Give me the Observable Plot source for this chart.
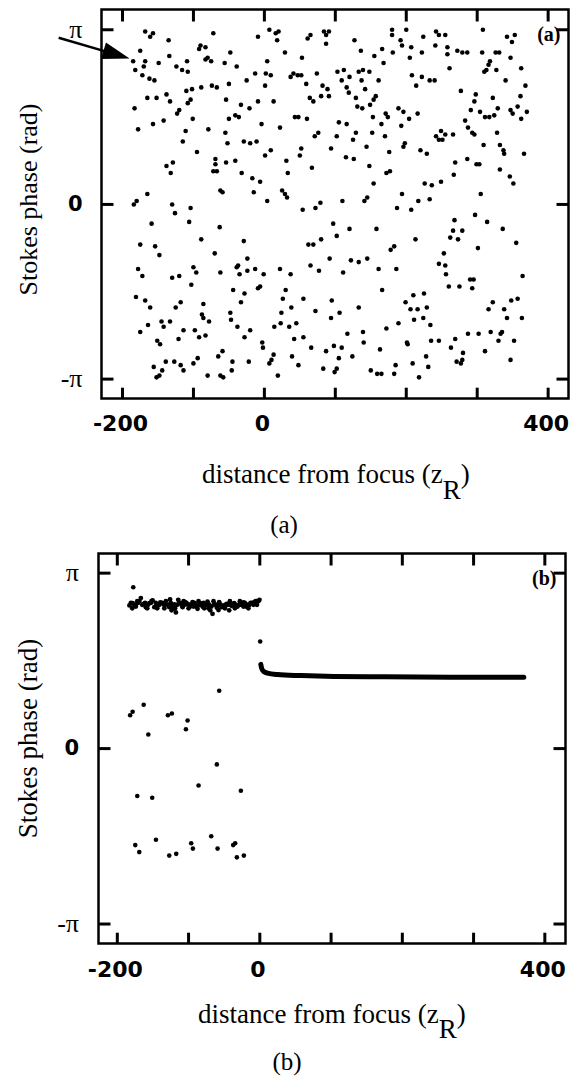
<!DOCTYPE html>
<html><head><meta charset="utf-8">
<script src="https://cdn.jsdelivr.net/npm/d3@7"></script>
<script src="https://cdn.jsdelivr.net/npm/@observablehq/plot@0.6"></script>
<style>
body{margin:0;background:#fff;}
#root{position:relative;width:570px;height:1085px;overflow:hidden;background:#fff;}
.panel{position:absolute;left:0;}
.xl{position:absolute;font-family:"Liberation Serif",serif;font-size:27px;line-height:1;white-space:nowrap;color:#000;}
.xl .sub{position:relative;}
.cap{position:absolute;font-family:"Liberation Serif",serif;font-size:25px;line-height:1;transform:translateX(-50%);white-space:nowrap;color:#000;}
</style></head>
<body><div id="root">
<div id="pa" class="panel" style="top:0"></div>
<div class="xl" style="left:202px;top:461px">distance from focus (z<span class="sub" style="top:16px">R</span>)</div>
<div class="cap" style="left:284px;top:512px">(a)</div>
<div id="pb" class="panel" style="top:540px"></div>
<div class="xl" style="left:198px;top:1001px">distance from focus (z<span class="sub" style="top:15px">R</span>)</div>
<div class="cap" style="left:287px;top:1049px">(b)</div>
</div>
<script>
// ---- axis ticks ----
const xTickValues = [-200, -100, 0, 100, 200, 300, 400];
const xLabelValues = [-200, 0, 400];
const xLabelText = ["-200", "0", "400"];
const yTickValues = [-1, 0, 1];          // Stokes phase in units of π
const piTickValues = [-1, 1];
const piTickText = ["-π", "π"];
const zeroTick = [0];
const yLabel = "Stokes phase (rad)";

// ---- panel (a): [distance (zR), phase (π rad)] ----
const pointsA = [
[-185,0.82],[-168,0.99],[-161,0.96],[-157,0.98],[-135,0.94],[-72,0.98],[-9,0.96],[7,1.00],[16,0.98],[20,0.99],
[18,0.94],[61,0.95],[65,0.97],[84,0.99],[91,0.99],[87,0.97],[87,0.92],[-175,0.88],[-134,0.85],[-92,0.89],
[-90,0.91],[-83,0.90],[-80,0.84],[-83,0.83],[-75,0.82],[-48,0.87],[-56,0.81],[-39,0.79],[29,0.87],[53,0.84],
[4,0.82],[-168,0.82],[-170,0.79],[-149,0.81],[-182,0.77],[-172,0.74],[-162,0.72],[-155,0.71],[-124,0.79],[-116,0.77],
[-108,0.76],[-109,0.82],[-25,0.71],[-13,0.75],[2,0.75],[9,0.74],[37,0.73],[41,0.75],[47,0.74],[52,0.74],
[74,0.75],[59,0.69],[82,0.68],[89,0.66],[1,0.68],[-50,0.69],[-74,0.68],[-67,0.67],[-89,0.67],[-110,0.65],
[-102,0.66],[-138,0.63],[-165,0.61],[-152,0.61],[-133,0.59],[-108,0.58],[-104,0.60],[-54,0.60],[-9,0.59],[13,0.59],
[64,0.61],[69,0.59],[80,0.62],[91,0.62],[-183,0.55],[-123,0.52],[-120,0.54],[-33,0.57],[-21,0.55],[-41,0.51],
[-36,0.50],[-50,0.49],[-101,0.49],[-142,0.48],[-157,0.46],[-178,0.43],[-79,0.43],[-55,0.41],[-4,0.46],[22,0.44],
[43,0.50],[48,0.50],[60,0.49],[-111,0.42],[-115,0.36],[-52,0.35],[-29,0.36],[-20,0.35],[-11,0.36],[9,0.31],
[1,0.28],[52,0.32],[50,0.28],[71,0.39],[76,0.41],[94,0.32],[-95,0.30],[-138,0.22],[-129,0.24],[-132,0.18],
[-69,0.26],[-69,0.23],[-72,0.19],[-67,0.19],[-54,0.24],[-41,0.25],[-32,0.18],[-17,0.15],[-6,0.13],[31,0.25],
[33,0.18],[67,0.21],[-165,0.06],[-62,0.08],[-59,0.07],[-15,0.07],[25,0.08],[29,0.06],
[103,0.76],[112,0.77],[109,0.71],[120,0.73],[116,0.67],[119,0.64],[129,0.61],[142,0.66],[133,0.76],[139,0.77],
[148,0.76],[137,0.71],[161,0.71],[154,0.60],[157,0.62],[149,0.57],[131,0.56],[138,0.55],[153,0.50],[171,0.52],
[174,0.50],[165,0.46],[152,0.41],[170,0.39],[189,0.55],[196,0.53],[204,0.49],[216,0.52],[193,0.45],[220,0.31],
[229,0.29],[196,0.33],[198,0.35],[176,0.30],[144,0.33],[129,0.41],[125,0.37],[105,0.47],[116,0.46],[102,0.39],
[115,0.27],[126,0.26],[148,0.22],[172,0.18],[177,0.19],[154,0.12],[194,0.06],[226,0.12],[236,0.11],[249,0.13],
[267,0.17],[269,0.24],[286,0.26],[299,0.23],[303,0.23],[332,0.20],[346,0.16],[351,0.12],[305,0.06],[366,0.29],
[337,0.31],[338,0.29],[332,0.34],[309,0.34],[328,0.41],[283,0.48],[287,0.44],[293,0.41],[296,0.40],[255,0.40],
[249,0.42],[242,0.39],[246,0.37],[251,0.37],[266,0.40],[277,0.65],[298,0.63],[296,0.59],[291,0.54],[304,0.53],
[311,0.50],[317,0.50],[324,0.51],[329,0.55],[322,0.61],[340,0.71],[347,0.84],[362,0.78],[368,0.68],[361,0.62],
[357,0.56],[347,0.54],[350,0.52],[370,0.53],[362,0.49],[318,0.82],[316,0.80],[313,0.77],[310,0.76],[326,0.87],
[331,0.87],[327,0.77],[307,0.87],[342,0.96],[353,0.97],[349,0.93],[308,1.00],[272,0.88],[279,0.87],[286,0.87],
[258,0.90],[258,0.86],[261,0.78],[242,0.99],[246,0.97],[255,0.97],[224,0.96],[241,0.91],[222,0.87],[180,1.00],
[180,0.97],[200,1.00],[192,0.94],[194,0.91],[207,0.90],[205,0.84],[181,0.87],[166,0.89],[155,0.85],[168,0.81],
[136,0.88],[127,0.94],[208,0.74],[222,0.73],[233,0.71],[240,0.71],[214,0.68],
[-184,0.00],[-180,0.02],[-130,0.00],[-126,-0.05],[-104,-0.02],[-106,-0.10],[-159,-0.11],[-63,-0.13],[-89,-0.20],[-29,-0.21],
[4,0.02],[32,0.04],[54,-0.03],[72,-0.02],[79,0.01],[-175,-0.23],[-154,-0.24],[-148,-0.29],[-70,-0.28],[-24,-0.31],
[-39,-0.36],[-37,-0.35],[-35,-0.40],[-24,-0.38],[-13,-0.37],[-1,-0.40],[22,-0.37],[37,-0.40],[62,-0.23],[69,-0.23],
[80,-0.20],[92,-0.31],[65,-0.35],[77,-0.38],[-178,-0.37],[-172,-0.41],[-130,-0.42],[-120,-0.41],[-100,-0.36],[-96,-0.39],
[-103,-0.46],[-62,-0.39],[-44,-0.49],[-28,-0.51],[-33,-0.56],[-9,-0.48],[-6,-0.47],[30,-0.49],[26,-0.54],[24,-0.62],
[38,-0.59],[55,-0.54],[72,-0.61],[94,-0.65],[-181,-0.53],[-168,-0.55],[-161,-0.59],[-125,-0.59],[-118,-0.56],[-86,-0.57],
[-88,-0.63],[-86,-0.65],[-78,-0.67],[-48,-0.62],[-47,-0.66],[-38,-0.70],[-20,-0.72],[-28,-0.76],[-3,-0.79],[-2,-0.82],
[14,-0.70],[23,-0.68],[35,-0.70],[45,-0.68],[42,-0.77],[55,-0.76],[66,-0.82],[87,-0.84],[-175,-0.73],[-164,-0.69],
[-145,-0.67],[-142,-0.70],[-133,-0.67],[-151,-0.78],[-147,-0.80],[-121,-0.77],[-114,-0.72],[-98,-0.72],[-92,-0.76],[-83,-0.75],
[-65,-0.87],[-59,-0.84],[-45,-0.90],[-46,-0.95],[-22,-0.90],[13,-0.86],[10,-0.89],[7,-0.91],[19,-0.98],[39,-0.87],
[48,-0.92],[83,-0.94],[-156,-0.93],[-152,-0.99],[-148,-0.98],[-144,-0.95],[-139,-0.90],[-127,-0.90],[-118,-0.92],[-114,-0.95],
[-100,-0.91],[-94,-0.88],[-80,-0.98],[-62,-0.98],[-58,-0.99],
[110,0.02],[141,0.02],[145,0.04],[217,0.02],[233,0.03],[97,-0.11],[102,-0.18],[120,-0.14],[158,-0.14],[187,-0.02],
[207,-0.03],[213,-0.20],[178,-0.26],[183,-0.24],[268,-0.09],[266,-0.15],[279,-0.15],[262,-0.19],[273,-0.20],[297,-0.06],
[314,-0.10],[336,-0.14],[355,-0.22],[301,-0.25],[122,-0.32],[133,-0.33],[145,-0.31],[111,-0.39],[161,-0.37],[186,-0.37],
[253,-0.28],[246,-0.34],[255,-0.35],[256,-0.40],[260,-0.47],[275,-0.47],[290,-0.43],[295,-0.43],[293,-0.48],[364,-0.41],
[166,-0.49],[95,-0.55],[106,-0.62],[133,-0.59],[199,-0.56],[206,-0.60],[210,-0.52],[225,-0.51],[216,-0.60],[229,-0.59],
[211,-0.66],[224,-0.65],[234,-0.69],[189,-0.68],[172,-0.71],[117,-0.74],[139,-0.73],[140,-0.79],[98,-0.81],[109,-0.82],
[124,-0.87],[105,-0.88],[99,-0.96],[102,-0.94],[163,-0.83],[201,-0.79],[202,-0.80],[235,-0.78],[246,-0.78],[269,-0.77],
[263,-0.82],[287,-0.74],[302,-0.74],[319,-0.73],[311,-0.84],[280,-0.85],[271,-0.90],[279,-0.89],[277,-0.91],[330,-0.78],
[333,-0.74],[335,-0.73],[352,-0.78],[347,-0.89],[316,-0.60],[322,-0.56],[338,-0.60],[342,-0.65],[348,-0.55],[357,-0.54],
[363,-0.65],[228,-0.87],[231,-0.93],[209,-0.91],[218,-0.99],[185,-0.92],[183,-0.97],[150,-0.95],[159,-0.97],[165,-0.97]
];
// arrow annotation of panel (a), data units: tail -> head centre
const arrowA = [{x1: -290, y1: 0.954, x2: -214.5, y2: 0.865}];

// ---- panel (b) ----
const bandB = [
[-183,0.816],[-178.5,0.829],[-174,0.81],[-169,0.841],[-167,0.858],[-163,0.825],[-160,0.806],[-155,0.829],[-150.5,0.845],[-148,0.806],
[-143.5,0.816],[-139.7,0.833],[-135,0.822],[-131.8,0.841],[-127,0.806],[-123.8,0.788],[-120,0.822],[-117.8,0.776],[-114.5,0.848],[-111.7,0.829],
[-108.4,0.806],[-105,0.835],[-101.4,0.822],[-97.7,0.81],[-94.4,0.835],[-90.7,0.822],[-87.4,0.797],[-83.6,0.829],[-80.4,0.81],[-77,0.822],
[-73.4,0.837],[-69.6,0.788],[-66.4,0.768],[-64,0.822],[-60.3,0.803],[-57,0.835],[-53.7,0.806],[-50,0.816],[-46.3,0.825],[-43,0.788],
[-39.7,0.814],[-36,0.829],[-31.3,0.81],[-26.6,0.822],[-22.9,0.833],[-19.2,0.81],[-15,0.818],[-11.7,0.829],[-7.9,0.833],[-4.2,0.841],[-0.5,0.848],
[-181,0.83],[-176,0.82],[-171,0.83],[-165,0.82],[-161,0.83],[-157,0.82],[-153,0.83],[-146,0.83],[-141,0.82],[-137,0.83],
[-133,0.82],[-129,0.82],[-125,0.83],[-122,0.81],[-116,0.82],[-113,0.83],[-110,0.82],[-106,0.82],[-103,0.83],[-99,0.82],
[-96,0.82],[-92,0.83],[-89,0.81],[-85,0.82],[-82,0.82],[-79,0.83],[-75,0.82],[-71,0.82],[-68,0.81],[-62,0.82],
[-59,0.82],[-55,0.82],[-52,0.81],[-48,0.82],[-45,0.82],[-41,0.82],[-38,0.82],[-34,0.82],[-29,0.82],[-25,0.82],
[-21,0.83],[-17,0.82],[-13,0.83],[-10,0.83],[-6,0.84],[-2,0.84],
[-179,0.80],[-172,0.84],[-158,0.80],[-152,0.84],[-144,0.80],[-134,0.80],[-126,0.85],[-119,0.80],[-107,0.84],[-100,0.80],
[-93,0.81],[-86,0.84],[-78,0.80],[-72,0.80],[-65,0.84],[-58,0.79],[-49,0.80],[-42,0.84],[-35,0.80],[-28,0.84],
[-23,0.81],[-16,0.80],[-9,0.82],[-4,0.82]
];
const scatterB = [
[-177.6,0.92],[0.5,0.61],[-57,0.33],[-163,0.25],[-182,0.19],[-178.5,0.21],[-156.5,0.08],[-129,0.19],[-123.4,0.20],[-101.4,0.16],
[-103.7,0.11],[-60.3,-0.09],[-86,-0.21],[-172,-0.27],[-151,-0.28],[-26.6,-0.24],[-174.8,-0.55],[-169.2,-0.59],[-145.8,-0.52],[-127.1,-0.61],
[-117.3,-0.60],[-96.3,-0.54],[-93.9,-0.57],[-68.2,-0.50],[-59.3,-0.57],[-37.4,-0.55],[-34.6,-0.54],[-32.2,-0.62],[-22.4,-0.61]
];
const curveB = [
[1.4,0.48],[2.4,0.46],[5.2,0.44],[10.8,0.43],[24.8,0.422],[57.5,0.416],[104,0.411],[174,0.409],[268,0.407],[370.5,0.407]
];

const headSymbol = {
  draw(context, size) {
    const r = Math.sqrt(size / Math.PI), L = 3.2 * r, W = 2 * r;
    context.moveTo(0, -2 * L / 3);
    context.lineTo(W / 2, L / 3);
    context.lineTo(-W / 2, L / 3);
    context.closePath();
  }
};

function panel(cfg) {
  const W = 570, H = 455;
  const fw = W - cfg.ml - cfg.mr, fh = H - cfg.mt - cfg.mb;   // frame size in px
  const [x0, x1] = cfg.xDomain, [y0, y1] = cfg.yDomain;
  const ux = (x1 - x0) / fw, uy = (y1 - y0) / fh;              // data units per px
  const tx = 12 * ux, ty = 12 * uy;                            // tick lengths in data units
  const xFmt = d => xLabelText[xLabelValues.indexOf(d)];
  const piFmt = d => piTickText[piTickValues.indexOf(d)];
  const tk = {stroke: "black", strokeWidth: 3};
  return Plot.plot({
    width: W, height: H,
    marginTop: cfg.mt, marginBottom: cfg.mb, marginLeft: cfg.ml, marginRight: cfg.mr,
    x: {domain: cfg.xDomain},
    y: {domain: cfg.yDomain},
    style: {overflow: "visible"},
    marks: [
      Plot.frame({stroke: "black", fill: "none", strokeWidth: 2.5}),
      Plot.axisX(xLabelValues, {anchor: "bottom", tickSize: 0, tickPadding: cfg.xPad, tickFormat: xFmt, label: null,
        dx: -2, fontFamily: "DejaVu Sans", fontWeight: "bold", fontSize: 22, fill: "black"}),
      Plot.axisY(piTickValues, {anchor: "left", tickSize: 0, tickPadding: cfg.yPad, tickFormat: piFmt, label: null,
        fontFamily: "Liberation Serif", fontSize: 26, fill: "black"}),
      Plot.axisY(zeroTick, {anchor: "left", tickSize: 0, tickPadding: cfg.yPad, tickFormat: () => "0", label: null,
        fontFamily: "DejaVu Sans", fontWeight: "bold", fontSize: 21, fill: "black"}),
      Plot.text([yLabel], {frameAnchor: "left", text: d => d, rotate: -90, textAnchor: "middle", lineAnchor: "middle",
        dx: cfg.ylDx, dy: cfg.ylDy, fontFamily: "Liberation Serif", fontSize: cfg.ylSize, fill: "black"}),
      Plot.text([cfg.tag], {frameAnchor: "top-right", text: d => d, textAnchor: "end", lineAnchor: "middle",
        dx: cfg.tagDx, dy: cfg.tagDy, fontFamily: "Liberation Serif", fontWeight: "bold", fontSize: 20, fill: "#000"}),
      ...cfg.marks,
      // inward tick marks on all four sides (drawn last)
      Plot.link(xTickValues, {x1: d => d, x2: d => d, y1: () => y1, y2: () => y1 - ty, ...tk}),
      Plot.link(xTickValues, {x1: d => d, x2: d => d, y1: () => y0, y2: () => y0 + ty * 0.9, ...tk}),
      Plot.link(yTickValues, {y1: d => d, y2: d => d, x1: () => x0, x2: () => x0 + tx, ...tk}),
      Plot.link(yTickValues, {y1: d => d, y2: d => d, x1: () => x1, x2: () => x1 - tx, ...tk})
    ]
  });
}

const figA = panel({
  mt: 9, mb: 57, ml: 101, mr: 2,
  xDomain: [-229.6, 428.7], yDomain: [-1.111, 1.116],
  xPad: 17, yPad: 19, ylDx: -73, ylDy: -4.5, ylSize: 26,
  tag: "(a)", tagDx: -8, tagDy: 25.5,
  marks: [
    Plot.dot(pointsA, {x: d => d[0], y: d => d[1], r: 2.3, fill: "black"}),
    Plot.link(arrowA, {x1: "x1", y1: "y1", x2: "x2", y2: "y2", stroke: "black", strokeWidth: 2.5}),
    Plot.dot(arrowA, {x: "x2", y: "y2", symbol: headSymbol, r: 8.5, rotate: 106.5, fill: "black"})
  ]
});
document.getElementById("pa").append(figA);

const figB = panel({
  mt: 13, mb: 52, ml: 98, mr: 5,
  xDomain: [-226.4, 429], yDomain: [-1.111, 1.112],
  xPad: 18, yPad: 19.5, ylDx: -70, ylDy: -10, ylSize: 27,
  tag: "(b)", tagDx: -9, tagDy: 25.5,
  marks: [
    Plot.line(curveB, {x: d => d[0], y: d => d[1], stroke: "black", strokeWidth: 5, strokeLinecap: "round", curve: "monotone-x"}),
    Plot.dot(bandB, {x: d => d[0], y: d => d[1], r: 2.4, fill: "black"}),
    Plot.dot(scatterB, {x: d => d[0], y: d => d[1], r: 2.3, fill: "black"})
  ]
});
document.getElementById("pb").append(figB);
</script></body></html>
